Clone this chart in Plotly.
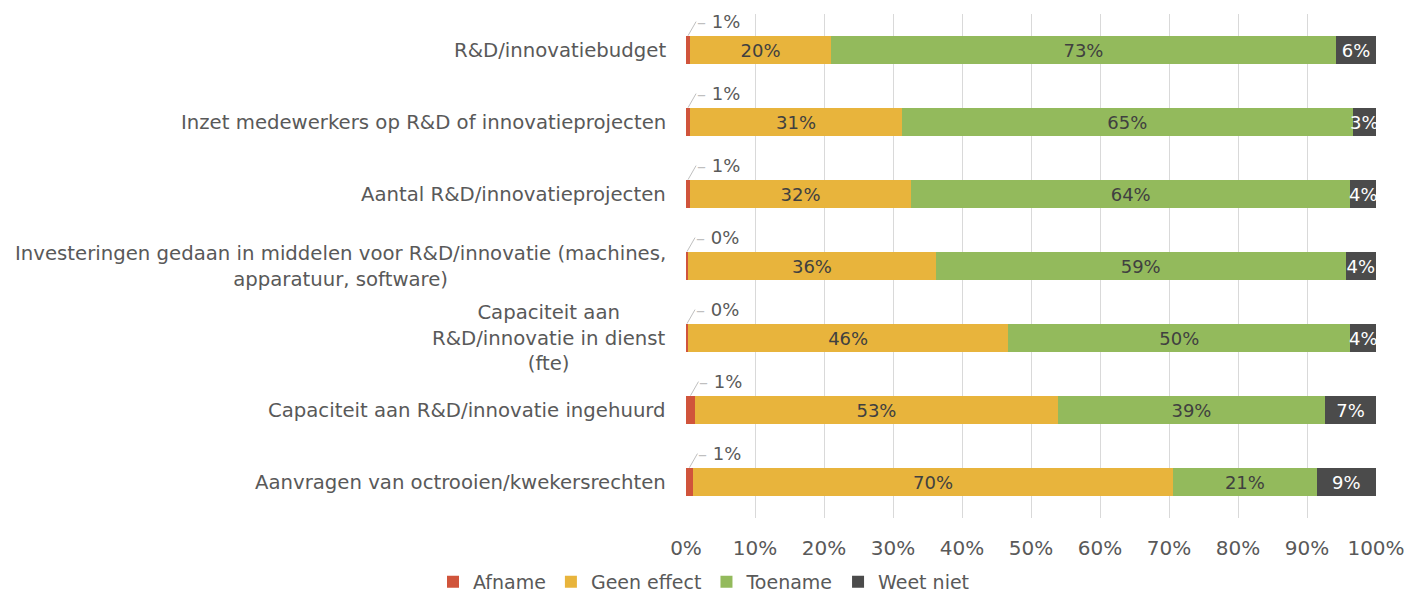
import plotly.graph_objects as go

# Categories (top to bottom) and share of respondents per answer, in percent
categories = [
    "R&D/innovatiebudget",
    "Inzet medewerkers op R&D of innovatieprojecten",
    "Aantal R&D/innovatieprojecten",
    "Investeringen gedaan in middelen voor R&D/innovatie (machines,<br>apparatuur, software)",
    "Capaciteit aan<br>R&D/innovatie in dienst<br>(fte)",
    "Capaciteit aan R&D/innovatie ingehuurd",
    "Aanvragen van octrooien/kwekersrechten",
]
afname = [0.6, 0.6, 0.6, 0.3, 0.3, 1.3, 1.0]
geen_effect = [20.4, 30.7, 32.0, 35.9, 46.4, 52.6, 69.6]
toename = [73.2, 65.3, 63.7, 59.4, 49.6, 38.7, 20.8]
weet_niet = [5.8, 3.4, 3.7, 4.4, 3.7, 7.4, 8.6]

x_ticks = [0, 10, 20, 30, 40, 50, 60, 70, 80, 90, 100]
x_tick_labels = [f"{v}%" for v in x_ticks]

FONT = "DejaVu Sans, Verdana, sans-serif"
GREY_TEXT = "#595959"
DARK_TEXT = "#404040"
LEADER = "#BFBFBF"

series = [
    ("Afname", afname, "#D0543B", None),
    ("Geen effect", geen_effect, "#E8B43C", DARK_TEXT),
    ("Toename", toename, "#93BA5C", DARK_TEXT),
    ("Weet niet", weet_niet, "#4B4B4B", "#FFFFFF"),
]

fig = go.Figure()
for name, vals, color, tcolor in series:
    kw = {}
    if tcolor is not None:
        kw = dict(
            text=[f"{v:.0f}%" for v in vals],
            textposition="inside",
            insidetextanchor="middle",
            constraintext="none",
            textfont=dict(family=FONT, size=18, color=tcolor),
            textangle=0,
        )
    fig.add_trace(go.Bar(
        name=name,
        y=categories,
        x=vals,
        orientation="h",
        marker=dict(color=color, line=dict(width=0)),
        hoverinfo="skip",
        **kw,
    ))

annotations = []
# Category labels, centred per line, to the left of the plot area
for cat in categories:
    annotations.append(dict(
        x=0, xref="paper", y=cat, yref="y",
        xanchor="right", yanchor="middle", xshift=-18,
        text=cat, showarrow=False, align="center",
        font=dict(family=FONT, size=19.7, color=GREY_TEXT),
    ))

# Callout labels with an elbow leader line for the thin "Afname" segments
for i, v in enumerate(afname):
    annotations.append(dict(
        x=v / 2, xref="x", y=i - 0.2, yref="y",
        text=f"<span style='color:{LEADER}'>–</span> {v:.0f}%",
        showarrow=True,
        ax=8, ay=-14, xanchor="left", yanchor="middle",
        arrowhead=0, arrowwidth=1, arrowcolor=LEADER, standoff=0,
        borderpad=0,
        font=dict(family=FONT, size=18, color=GREY_TEXT),
    ))

fig.update_layout(
    barmode="stack",
    bargap=0.6,
    width=1408,
    height=596,
    margin=dict(l=686, r=32, t=14, b=78, autoexpand=False),
    paper_bgcolor="white",
    plot_bgcolor="white",
    font=dict(family=FONT, size=19, color=GREY_TEXT),
    xaxis=dict(
        range=[0, 100],
        tickvals=x_ticks,
        ticktext=x_tick_labels,
        showgrid=True,
        gridcolor="#D9D9D9",
        gridwidth=1,
        zeroline=False,
        showline=False,
        ticks="outside",
        ticklen=12,
        tickcolor="rgba(0,0,0,0)",
        tickfont=dict(family=FONT, size=20, color=GREY_TEXT),
        automargin=False,
        fixedrange=True,
    ),
    yaxis=dict(
        range=[6.5, -0.5],
        showticklabels=False,
        showgrid=False,
        zeroline=False,
        showline=False,
        automargin=False,
        fixedrange=True,
    ),
    legend=dict(
        orientation="h",
        traceorder="normal",
        xref="container", yref="paper",
        x=0.5, xanchor="center",
        y=-0.089, yanchor="top",
        font=dict(family=FONT, size=19, color=GREY_TEXT),
        itemclick=False, itemdoubleclick=False,
    ),
    annotations=annotations,
    showlegend=True,
)

fig.write_html("out.html")
